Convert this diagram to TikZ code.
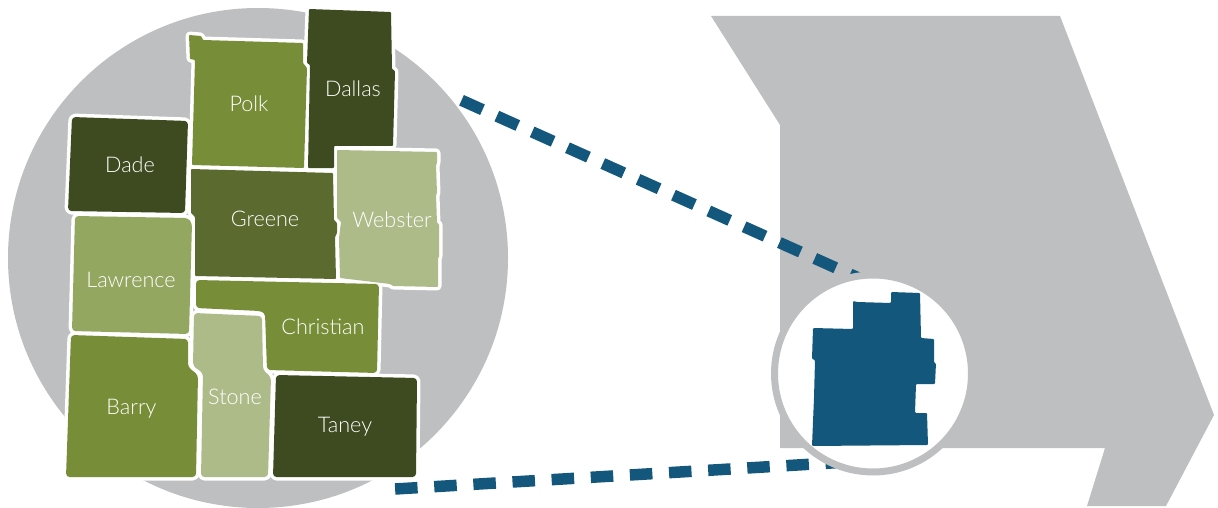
\documentclass[tikz,border=0pt]{standalone}
\usepackage{fontspec}
\setmainfont{Lato Light}
\definecolor{mapgray}{HTML}{BEBFC1}
\definecolor{mapblue}{HTML}{14577C}
\definecolor{gdark}{HTML}{3E4A1F}
\definecolor{gmid}{HTML}{778D38}
\definecolor{gdeep}{HTML}{5B6A2E}
\definecolor{glight}{HTML}{ADBB89}
\definecolor{gsoft}{HTML}{93A761}
\tikzset{
  halo/.style={draw=white,line width=7pt,line join=round},
  crisp/.style={rounded corners=0.8pt},
  soft/.style={rounded corners=3.5pt},
  cname/.style={text=white,font=\fontsize{21.6}{24}\selectfont,inner sep=0pt},
  uplink/.style={draw=mapblue,line width=11.5pt,dash pattern=on 23pt off 15.7pt},
  lowlink/.style={draw=mapblue,line width=11.5pt,dash pattern=on 22.5pt off 16.7pt},
}
\newcommand{\shPolk}{(189,35) -- (201,36) -- (203,40) -- (303,43) -- (303,63) -- (307,68) -- (304,168) -- (192,165) -- (195,60) -- (190,59) -- cycle}
\newcommand{\shDallas}{(309,9) -- (391,12) -- (392,69) -- (395,71) -- (393,146) -- (334,146) -- (334,168) -- (308,168) -- (310,65) -- (307,63) -- cycle}
\newcommand{\shDade}{(72,117) -- (188,121) -- (185,213) -- (68,211) -- cycle}
\newcommand{\shGreene}{(191,169) -- (333,173) -- (334,220) -- (337,223) -- (337,233) -- (335,237) -- (336,279) -- (195,276) -- (195,217) -- (191,213) -- cycle}
\newcommand{\shWebster}{(337,150) -- (437,152) -- (437,163) -- (436,165) -- (437,193) -- (436,195) -- (437,223) -- (439,224) -- (439,257) -- (438,258) -- (438,287) -- (393,286) -- (390,284) -- (340,278) -- (339,238) -- (341,222) -- (337,218) -- cycle}
\newcommand{\shLawrence}{(75,216) -- (188,218) -- (192,223) -- (189,334) -- (72,331) -- cycle}
\newcommand{\shBarry}{(71,335) -- (188,339) -- (188,367) -- (198,375) -- (196,477) -- (66,477) -- cycle}
\newcommand{\shStone}{(194,313) -- (262,316) -- (263,370) -- (271,377) -- (268,477) -- (201,477) -- (203,373) -- (193,366) -- cycle}
\newcommand{\shChristian}{(196,280) -- (379,284) -- (377,373) -- (267,370) -- (265,313) -- (260,311) -- (196,308) -- cycle}
\newcommand{\shTaney}{(276,375) -- (417,378) -- (416,477) -- (273,477) -- cycle}
\begin{document}
\begin{tikzpicture}[x=1pt,y=-1pt]
\useasboundingbox (0,0) rectangle (1218,508);
% state
\fill[mapgray] (711,16) -- (1060,16) -- (1214,415) -- (1166,506) -- (1087,506) -- (1105,448) -- (780,448) -- (780,125) -- cycle;
% big circle
\fill[mapgray] (258,258) circle[radius=250];
% dashed links
\coordinate (ua) at (461.5,100.3);
\coordinate (ub) at (870.8,283.5);
\coordinate (la) at (395.1,489);
\coordinate (lb) at (847.6,462);
\draw[uplink] (ua) -- (ub);
\draw[lowlink] (la) -- (lb);
% small circle
\draw[mapgray,fill=white,line width=7pt] (873,373.5) circle[radius=98.5];
\fill[mapblue,rounded corners=1pt] (853,301) -- (857,302) -- (891,303) -- (891,292) -- (920,293) -- (921,338) -- (934,339) -- (934,363) -- (936,363) -- (935,384) -- (916,384) -- (915,413) -- (927,413) -- (928,445) -- (812,446) -- (814,398) -- (815,360) -- (812,359) -- (813,328) -- (853,329) -- (853,310) -- cycle;
% county halos
\path[halo,crisp] \shPolk;
\path[halo,crisp] \shDallas;
\path[halo,soft] \shDade;
\path[halo,crisp] \shGreene;
\path[halo,crisp] \shWebster;
\path[halo,soft] \shLawrence;
\path[halo,soft] \shBarry;
\path[halo,soft] \shStone;
\path[halo,soft] \shChristian;
\path[halo,soft] \shTaney;
% county fills
\fill[gmid,crisp] \shPolk;
\fill[gdark,crisp] \shDallas;
\fill[gdark,soft] \shDade;
\fill[gdeep,crisp] \shGreene;
\fill[glight,crisp] \shWebster;
\fill[gsoft,soft] \shLawrence;
\fill[gmid,soft] \shBarry;
\fill[glight,soft] \shStone;
\fill[gmid,soft] \shChristian;
\fill[gdark,soft] \shTaney;
% labels
\node[cname] (polk) at (249,103.5) {Polk};
\node[cname] (dallas) at (353,89) {Dallas};
\node[cname] (dade) at (130,165) {Dade};
\node[cname] (greene) at (265,218.5) {Greene};
\node[cname] (webster) at (392,220) {Webster};
\node[cname] (lawrence) at (131,279.5) {Lawrence};
\node[cname] (christian) at (323,326.5) {Christian};
\node[cname] (stone) at (235,397) {Stone};
\node[cname] (barry) at (131.5,408.5) {Barry};
\node[cname] (taney) at (345,427) {Taney};
\end{tikzpicture}
\end{document}
